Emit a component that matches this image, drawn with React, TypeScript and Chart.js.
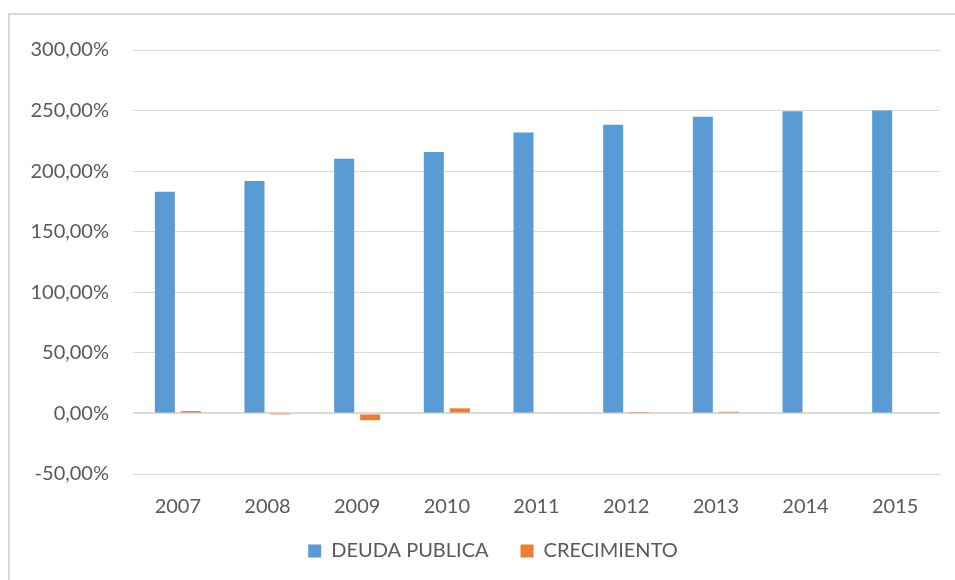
import React, { useEffect, useRef } from "react";
import { Chart, registerables } from "chart.js";

Chart.register(...registerables);

const years = ["2007", "2008", "2009", "2010", "2011", "2012", "2013", "2014", "2015"];
const deudaPublica = [183.0, 191.8, 210.3, 215.9, 231.9, 238.2, 244.9, 249.5, 250.1];
const crecimiento = [2.0, -0.3, -5.6, 4.2, 0.0, 1.2, 1.4, 0.0, 0.0];
const yMin = -50;
const yMax = 300;
const yStep = 50;

const FONT = "Lato, 'Open Sans', sans-serif";

const legendShift = {
  id: "legendShift",
  afterLayout(chart: any) {
    const l = chart.legend;
    if (!l) return;
    const dy = 509 - l.top;
    const dx = 23;
    l.top += dy;
    l.bottom += dy;
    l.left += dx;
    l.right += dx;
  },
};

export default function App() {
  const ref = useRef<HTMLCanvasElement | null>(null);

  useEffect(() => {
    if (!ref.current) return;
    const chart = new Chart(ref.current, {
      type: "bar",
      data: {
        labels: years,
        datasets: [
          {
            label: "DEUDA PUBLICA",
            data: deudaPublica,
            backgroundColor: "#5b9bd5",
            categoryPercentage: 0.58,
            barPercentage: 0.77,
          },
          {
            label: "CRECIMIENTO",
            data: crecimiento,
            backgroundColor: "#ed7d31",
            categoryPercentage: 0.58,
            barPercentage: 0.77,
          },
        ],
      },
      plugins: [legendShift],
      options: {
        responsive: false,
        animation: false,
        layout: { padding: { left: 0, right: 15, top: 50, bottom: 1 } },
        plugins: {
          tooltip: { enabled: false },
          legend: {
            position: "bottom",
            labels: {
              boxWidth: 13,
              boxHeight: 13,
              padding: 32,
              color: "#595959",
              font: { family: FONT, size: 20 },
            },
          },
        },
        scales: {
          x: {
            grid: { display: false, drawTicks: false },
            border: { display: false },
            ticks: {
              color: "#595959",
              font: { family: FONT, size: 20, lineHeight: 1.2 },
              padding: 21,
            },
            afterFit: (axis: any) => {
              axis.height = 43;
            },
          },
          y: {
            min: yMin,
            max: yMax,
            border: { display: false },
            grid: {
              color: "#d9d9d9",
              lineWidth: (ctx: any) => (ctx.tick && ctx.tick.value === 0 ? 2 : 1),
              drawTicks: false,
            },
            ticks: {
              stepSize: yStep,
              color: "#595959",
              font: { family: FONT, size: 20 },
              padding: 24,
              callback: (v: any) => Number(v).toFixed(2).replace(".", ",") + "%",
            },
            afterFit: (axis: any) => {
              axis.width = 133;
            },
          },
        },
      },
    });
    return () => chart.destroy();
  }, []);

  return (
    <div style={{ position: "fixed", left: 0, top: 0, width: 955, height: 580, background: "#fff", overflow: "hidden" }}>
      <div
        style={{
          position: "absolute",
          left: 8,
          top: 13,
          width: 1200,
          height: 1200,
          borderLeft: "2px solid #d9d9d9",
          borderTop: "2px solid #d9d9d9",
        }}
      />
      <canvas ref={ref} width={955} height={580} style={{ position: "absolute", left: 0, top: 0 }} />
    </div>
  );
}
